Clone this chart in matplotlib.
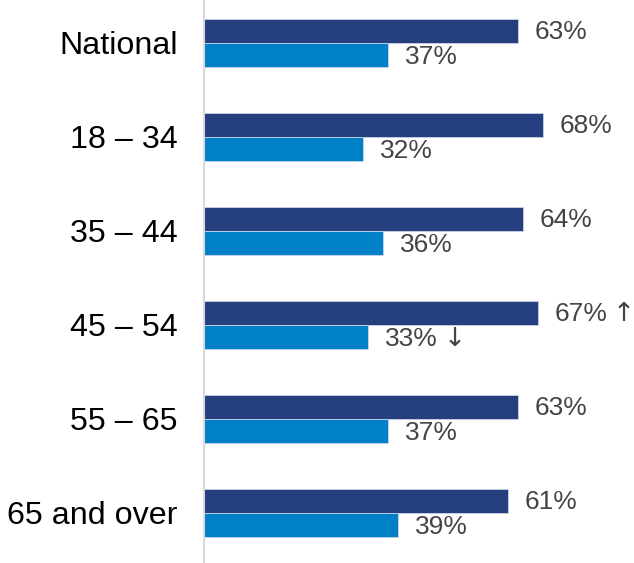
import matplotlib.pyplot as plt
import numpy as np

categories = ["National", "18 – 34", "35 – 44", "45 – 54", "55 – 65", "65 and over"]
series_a = [63, 68, 64, 67, 63, 61]
series_b = [37, 32, 36, 33, 37, 39]
marks_a = ["", "", "", "↑", "", ""]
marks_b = ["", "", "", "↓", "", ""]

DARK = "#26407f"
LIGHT = "#0080c6"
LABEL = "#444444"
FONT = ["Liberation Sans", "DejaVu Sans"]

plt.rcParams["font.family"] = FONT

fig = plt.figure(figsize=(6.34, 5.63), dpi=100)
ax = fig.add_axes([204 / 634, 0, 430 / 634, 1])

y = np.arange(len(categories))
h = 0.255
ax.barh(y - h / 2, series_a, height=h, color=DARK, edgecolor="#c9d3e6", linewidth=0.6)
ax.barh(y + h / 2, series_b, height=h, color=LIGHT, edgecolor="#c9d3e6", linewidth=0.6)


def label(value, ypos, mark):
    t = ax.annotate(f"{value}%", (value, ypos), xytext=(12, 0),
                    textcoords="offset points", va="center", ha="left",
                    fontsize=19, color=LABEL)
    if mark:
        # arrow drawn in DejaVu, it is taller and thinner there
        ax.annotate(mark, xy=(1, 0.5), xycoords=t, xytext=(4, 0),
                    textcoords="offset points", va="center", ha="left",
                    fontsize=19, color=LABEL, family="DejaVu Sans")


for i in range(len(categories)):
    label(series_a[i], y[i] - h / 2 + 0.01, marks_a[i])
    label(series_b[i], y[i] + h / 2 + 0.02, marks_b[i])

ax.set_xlim(0, 430 / 4.98)
ax.set_ylim((563 - 43) / 94, -43 / 94)
ax.set_yticks(y)
ax.set_yticklabels(categories, fontsize=23.2, color="black")
ax.tick_params(axis="y", length=0, pad=19)
ax.set_xticks([])
for side in ["top", "right", "bottom"]:
    ax.spines[side].set_visible(False)
ax.spines["left"].set_color("#d9d9d9")
ax.spines["left"].set_linewidth(1.5)

fig.savefig("out.png", dpi=100)
